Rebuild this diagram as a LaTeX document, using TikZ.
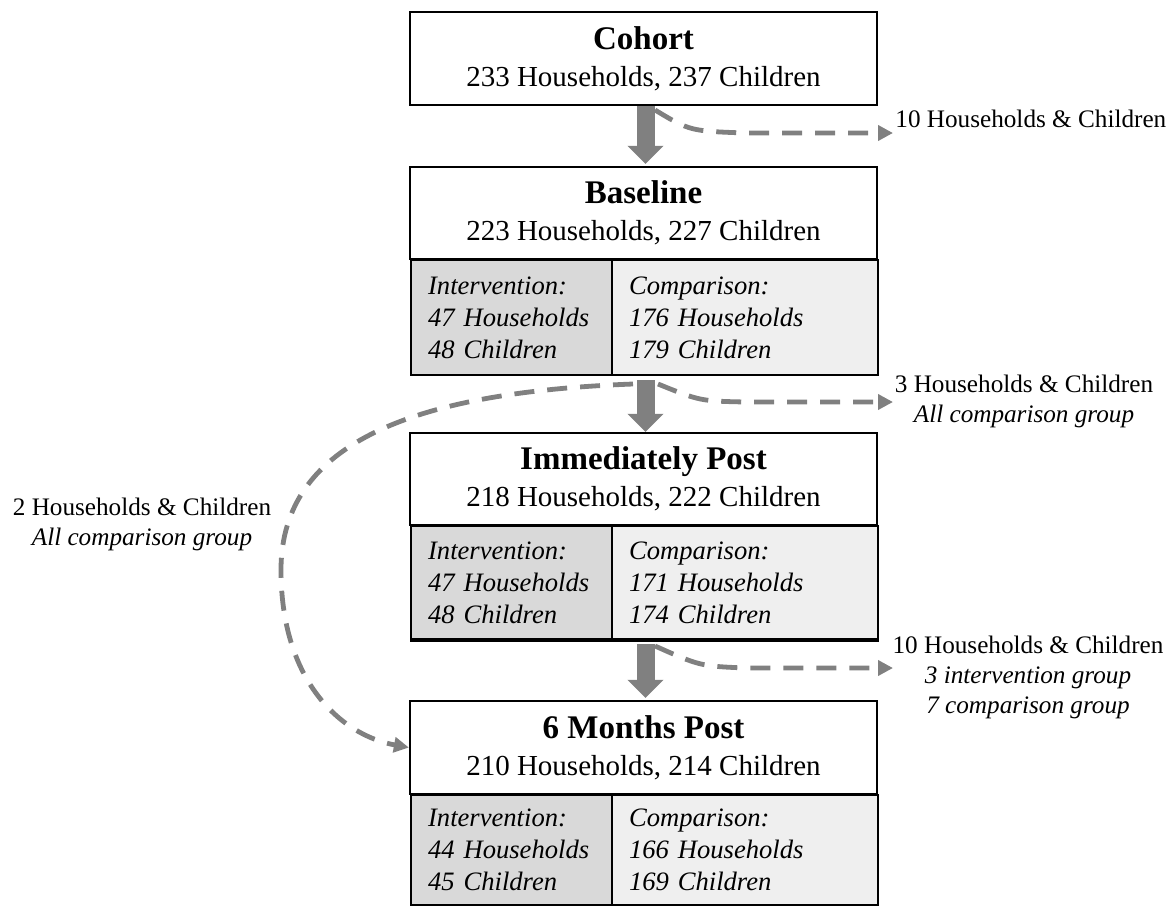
\documentclass[tikz,border=0pt]{standalone}
\usepackage{fontspec}
\setmainfont{Liberation Serif}
\usetikzlibrary{arrows.meta}
\definecolor{arrowgray}{HTML}{808080}
\definecolor{intfill}{HTML}{D9D9D9}
\definecolor{cmpfill}{HTML}{EFEFEF}
\begin{document}
\begin{tikzpicture}[x=0.5pt,y=-0.5pt,
  box/.style={draw=black, line width=1.1pt, inner sep=0pt},
  titlebox/.style={box, fill=white, minimum width=233.5pt, minimum height=46pt, align=center,
    font=\fontsize{14.5pt}{18.5pt}\selectfont},
  subbox/.style={box, anchor=north west, inner xsep=8.5pt, inner ysep=0pt, align=left,
    font=\fontsize{13.3pt}{16pt}\selectfont\itshape},
  intbox/.style={subbox, fill=intfill, text width=83.5pt},
  cmpbox/.style={subbox, fill=cmpfill, text width=116pt},
  bigarrow/.style={draw=arrowgray, line width=9pt, -{Triangle[length=9pt,width=17.5pt]}},
  loss/.style={draw=arrowgray, line width=2.4pt, dash pattern=on 10pt off 6.5pt,
    -{Triangle[length=7.5pt,width=7.5pt]}},
  sidelabel/.style={inner sep=0pt, align=center, font=\fontsize{12.6pt}{14.8pt}\selectfont}
]
\useasboundingbox (0,0) rectangle (1172,906);

% Cohort
\node[titlebox, minimum height=46.5pt] (t1) at (643.5,58.5)
  {{\fontsize{16.5pt}{18.5pt}\selectfont\bfseries Cohort}\\233 Households, 237 Children};

% Baseline
\node[titlebox] (t2) at (643.5,213)
  {{\fontsize{16.5pt}{18.5pt}\selectfont\bfseries Baseline}\\223 Households, 227 Children};
\node[intbox, minimum height=57.5pt] (i2) at (410,259) {Intervention:\\47 Households\\48 Children};
\node[cmpbox, minimum height=57.5pt] (c2) at (611,259) {Comparison:\\176 Households\\179 Children};

% Immediately Post
\node[titlebox] (t3) at (643.5,479)
  {{\fontsize{16.5pt}{18.5pt}\selectfont\bfseries Immediately Post}\\218 Households, 222 Children};
\node[intbox, minimum height=56.5pt] (i3) at (410,525) {Intervention:\\47 Households\\48 Children};
\node[cmpbox, minimum height=56.5pt] (c3) at (611,525) {Comparison:\\171 Households\\174 Children};
\draw[line width=2pt] (i3.south west) -- (c3.south east);

% 6 Months Post
\node[titlebox, minimum height=46.5pt] (t4) at (643.5,747.5)
  {{\fontsize{16.5pt}{18.5pt}\selectfont\bfseries 6 Months Post}\\210 Households, 214 Children};
\node[intbox, minimum height=55pt] (i4) at (410,794) {Intervention:\\44 Households\\45 Children};
\node[cmpbox, minimum height=55pt] (c4) at (611,794) {Comparison:\\166 Households\\169 Children};

% side labels
\node[sidelabel, anchor=base west] (lab1) at (895,127) {10 Households \& Children};
\node[sidelabel, anchor=north] (lab2) at (1024,375) {3 Households \& Children\\\textit{All comparison group}};
\node[sidelabel, anchor=north] (lab3) at (1028,636) {10 Households \& Children\\\textit{3 intervention group}\\\textit{7 comparison group}};
\node[sidelabel, anchor=north] (lab4) at (142,498) {2 Households \& Children\\\textit{All comparison group}};

% main arrows
\draw[bigarrow, shorten >=1pt] ([xshift=1pt]t1.south) -- ([xshift=1pt]t2.north);
\draw[bigarrow, shorten <=2pt] ([xshift=1pt]t2.south |- c2.south) -- ([xshift=1pt]t3.north);
\draw[bigarrow, shorten <=2pt, shorten >=1pt] ([xshift=1pt]t3.south |- c3.south) -- ([xshift=1pt]t4.north);

% loss connectors
\coordinate (s1) at (655,110);
\coordinate (e1) at (893,133);
\coordinate (s2) at (658,384);
\coordinate (e2) at (893,402);
\coordinate (s3) at (655,646);
\coordinate (e3) at (893,668);
\coordinate (s4) at (633,384);

\draw[loss] (s1) .. controls (690,131) .. (745,133) -- (e1);
\draw[loss] (s2) .. controls (700,401) .. (745,402) -- (e2);
\draw[loss] (s3) .. controls (700,666) .. (745,668) -- (e3);
\draw[loss] (s4) .. controls (420,392) and (281,440) .. (281,570)
  .. controls (281,680) and (340,735) .. (t4.west);
\end{tikzpicture}
\end{document}
